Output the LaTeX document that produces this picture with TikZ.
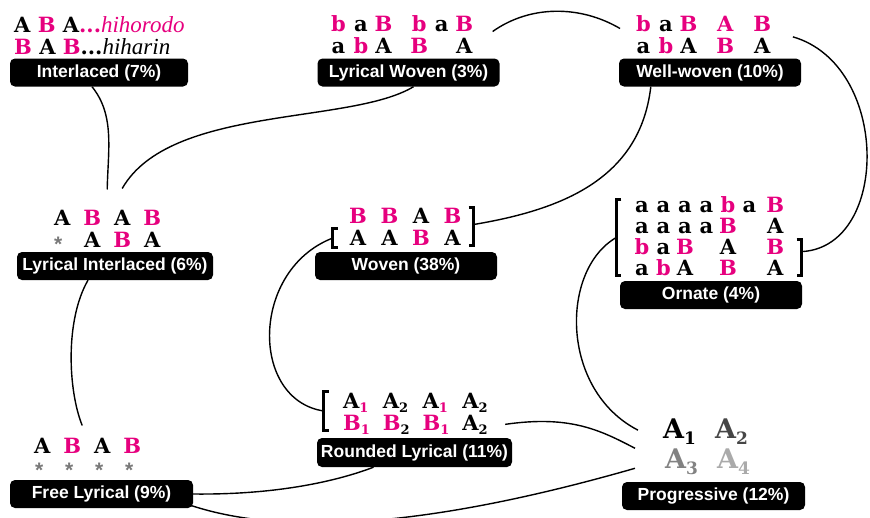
\documentclass[tikz,border=0pt]{standalone}
\usepackage{fontspec}
\setmainfont{DejaVu Serif}
\setsansfont{Liberation Sans}
\newfontfamily\hifont{Liberation Serif}

\definecolor{hipink}{RGB}{230,0,126}
\definecolor{stargray}{RGB}{120,120,120}
\definecolor{pgtwo}{RGB}{70,70,70}
\definecolor{pgthree}{RGB}{130,130,130}
\definecolor{pgfour}{RGB}{170,170,170}

\newcommand{\pk}[1]{\textcolor{hipink}{#1}}
\newcommand{\gl}[2][22.5pt]{\makebox[#1]{#2}}
\newcommand{\rc}[1]{\makebox[39.7pt][l]{#1}}
\newcommand{\lsub}[1]{\raisebox{-4pt}{\fontsize{13}{13}\selectfont #1}}
\newcommand{\psub}[1]{\raisebox{-6pt}{\fontsize{17}{17}\selectfont #1}}
\newcommand{\stargl}{\raisebox{-4pt}{\textcolor{stargray}{\fontsize{21}{21}\selectfont\sffamily\bfseries *}}}

\tikzset{
  tag/.style={fill=black, rounded corners=5pt, text=white, inner sep=0pt,
    font=\sffamily\bfseries\fontsize{17.5}{17.5}\selectfont,
    minimum width=182pt, minimum height=28pt},
  glyphs/.style={anchor=base west, inner sep=0pt,
    font=\bfseries\fontsize{21}{21}\selectfont},
  brack/.style={inner sep=0pt, minimum width=5pt},
  brk/.style={line width=2.8pt},
  link/.style={line width=1.4pt}
}

\begin{document}
\begin{tikzpicture}[x=1pt,y=-1pt]
\useasboundingbox (0,0) rectangle (870,517);
\clip (0,0) rectangle (870,517);

% top row
\node[glyphs] (in1) at (14,32) {A \pk{B} A\pk{...}\pk{\hifont\mdseries\itshape\fontsize{23}{23}\selectfont hihorodo}};
\node[glyphs] (in2) at (14,54) {\pk{B} A \pk{B}...{\hifont\mdseries\itshape\fontsize{23}{23}\selectfont hiharin}};
\node[tag, minimum width=178pt] (tInt) at (99,72.5) {Interlaced (7\%)};

\node[glyphs] (lw1) at (327,31) {\gl{\pk b}\gl a\gl{\pk B}\hspace{13.25pt}\gl{\pk b}\gl a\gl{\pk B}};
\node[glyphs] (lw2) at (327,53) {\gl a\gl{\pk b}\gl A\hspace{13.25pt}\gl{\pk B}\gl{}\gl A};
\node[tag] (tLW) at (408.5,72.5) {Lyrical Woven (3\%)};

\node[glyphs] (ww1) at (632,31) {\gl{\pk b}\gl a\gl{\pk B}\hspace{7pt}\gl[37pt]{\pk A}\gl[37pt]{\pk B}};
\node[glyphs] (ww2) at (632,53) {\gl a\gl{\pk b}\gl A\hspace{7pt}\gl[37pt]{\pk B}\gl[37pt]A};
\node[tag] (tWW) at (710,72.5) {Well-woven (10\%)};

% middle row
\node[glyphs] (li1) at (47,225) {\gl[30pt]A\gl[30pt]{\pk B}\gl[30pt]A\gl[30pt]{\pk B}};
\node[glyphs] (li2) at (47,247) {\gl[22pt]{\stargl}\hspace{8pt}\gl[30pt]A\gl[30pt]{\pk B}\gl[30pt]A};
\node[tag, minimum width=196pt] (tLI) at (115,266) {Lyrical Interlaced (6\%)};

\node[glyphs] (wo1) at (342,223) {\gl[31.5pt]{\pk B}\gl[31.5pt]{\pk B}\gl[31.5pt]A\gl[31.5pt]{\pk B}};
\node[glyphs] (wo2) at (342,245) {\gl[31.5pt]A\gl[31.5pt]A\gl[31.5pt]{\pk B}\gl[31.5pt]A};
\node[brack, minimum height=37pt] (wR) at (471,226.5) {};
\node[brack, minimum height=18pt] (wL) at (335.5,238) {};
\draw[brk] ([xshift=-5pt]wR.north east) -- (wR.north east) -- (wR.south east) -- ([xshift=-5pt]wR.south east);
\draw[brk] ([xshift=5pt]wL.north west) -- (wL.north west) -- (wL.south west) -- ([xshift=5pt]wL.south west);
\node[tag] (tWov) at (406,266) {Woven (38\%)};

\node[glyphs] (or1) at (631,212) {\gl[21.5pt]a\gl[21.5pt]a\gl[21.5pt]a\gl[21.5pt]a\gl[21.5pt]{\pk b}\gl[21.5pt]a\gl[30pt]{\pk B}};
\node[glyphs] (or2) at (631,233) {\gl[21.5pt]a\gl[21.5pt]a\gl[21.5pt]a\gl[21.5pt]a\gl[21.5pt]{\pk B}\gl[21.5pt]{}\gl[30pt]A};
\node[glyphs] (or3) at (631,254) {\gl[21.5pt]{\pk b}\gl[21.5pt]a\gl[21.5pt]{\pk B}\gl[21.5pt]{}\gl[21.5pt]A\gl[21.5pt]{}\gl[30pt]{\pk B}};
\node[glyphs] (or4) at (631,275) {\gl[21.5pt]a\gl[21.5pt]{\pk b}\gl[21.5pt]A\gl[21.5pt]{}\gl[21.5pt]{\pk B}\gl[21.5pt]{}\gl[30pt]A};
\node[brack, minimum height=75pt] (oL) at (619,237.5) {};
\node[brack, minimum height=35pt] (oR) at (799,257.5) {};
\draw[brk] ([xshift=5pt]oL.north west) -- (oL.north west) -- (oL.south west) -- ([xshift=5pt]oL.south west);
\draw[brk] ([xshift=-5pt]oR.north east) -- (oR.north east) -- (oR.south east) -- ([xshift=-5pt]oR.south east);
\node[tag] (tOrn) at (711,295) {Ornate (4\%)};

% bottom row
\node[glyphs] (rl1) at (343,408) {\rc{A\lsub{\pk 1}}\rc{A\lsub 2}\rc{A\lsub{\pk 1}}\rc{A\lsub 2}};
\node[glyphs] (rl2) at (343,430) {\rc{\pk{B\lsub 1}}\rc{\pk B\lsub 2}\rc{\pk{B\lsub 1}}\rc{A\lsub 2}};
\node[brack, minimum height=38pt] (rL) at (326.5,411) {};
\draw[brk] ([xshift=5pt]rL.north west) -- (rL.north west) -- (rL.south west) -- ([xshift=5pt]rL.south west);
\node[tag, minimum width=195pt, minimum height=29pt] (tRL) at (414.5,452.5) {Rounded Lyrical (11\%)};

\node[glyphs] (fl1) at (27,453) {\gl[30pt]A\gl[30pt]{\pk B}\gl[30pt]A\gl[30pt]{\pk B}};
\node[glyphs] (fl2) at (24,473) {\gl[30pt]{\stargl}\gl[30pt]{\stargl}\gl[30pt]{\stargl}\gl[30pt]{\stargl}};
\node[tag, minimum width=183pt] (tFL) at (101.5,494) {Free Lyrical (9\%)};

\node[glyphs, font=\bfseries\fontsize{27}{27}\selectfont] (pg1) at (663,438) {\makebox[52pt][l]{A\psub 1}{\color{pgtwo}A\psub 2}};
\node[glyphs, font=\bfseries\fontsize{27}{27}\selectfont] (pg2) at (665,468) {{\color{pgthree}\makebox[52pt][l]{A\psub 3}}{\color{pgfour}A\psub 4}};
\node[tag, minimum width=183pt] (tPG) at (713.5,496) {Progressive (12\%)};

% links
\draw[link] ([xshift=-7pt]tInt.south) .. controls (115,115) and (108,150) .. ([yshift=20pt]li1.north);
\draw[link] ([xshift=5pt]tLW.south) .. controls (350,125) and (170,105) .. ([xshift=15pt,yshift=21pt]li1.north);
\draw[link] ([xshift=17pt]lw1.south east) .. controls (530,5) and (580,5) .. ([xshift=-12pt,yshift=3pt]ww1.south west);
\draw[link] ([xshift=12pt]ww2.north east) .. controls (890,65) and (890,245) .. ([xshift=1.5pt,yshift=6pt]oR.east);
\draw[link] ([xshift=32pt]tWW.south west) .. controls (640,180) and (560,210) .. ([yshift=2pt]wR.east);
\draw[link] (wL.west) .. controls (250,270) and (250,400) .. (rL.west);
\draw[link] ([xshift=-27pt]tLI.south) .. controls (65,320) and (68,390) .. ([xshift=-5pt,yshift=12pt]fl1.north);
\draw[link] (oL.west) .. controls (560,270) and (560,390) .. ([xshift=-25pt,yshift=1pt]pg1.west);
\draw[link] ([xshift=3pt]rl2.east) .. controls (570,415) and (600,430) .. ([xshift=-30pt,yshift=13pt]pg2.west);
\draw[link] (tFL.east) .. controls (280,495) and (340,480) .. ([xshift=-41pt]tRL.south);
\draw[link] ([xshift=-3pt,yshift=3pt]tFL.south east) .. controls (280,535) and (420,530) .. ([xshift=-30pt,yshift=-7pt]pg2.west);
\end{tikzpicture}
\end{document}
